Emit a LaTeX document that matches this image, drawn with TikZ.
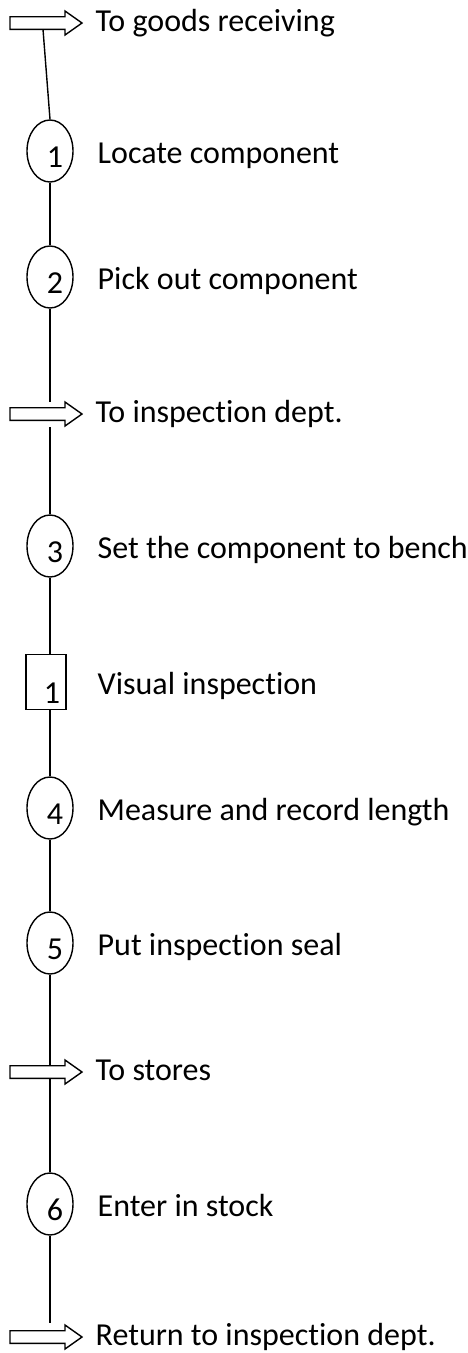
\documentclass[tikz,border=0pt]{standalone}
\usepackage{fontspec}
\setmainfont{Carlito}[Ligatures={NoCommon}]
\usetikzlibrary{shapes.geometric, positioning}
\newcommand{\transport}[3]{%
	\draw[fill=white] (10,#2-6.3) -- (65,#2-6.3) -- (65,#2-12) -- (82,#2) -- (65,#2+12) -- (65,#2+6.3) -- (10,#2+6.3) -- cycle;
	\node[lbl] (#1) at (95,#2+8) {#3};}

\begin{document}
\begin{tikzpicture}[x=1pt, y=-1pt, line width=1.4pt,
	op/.style={ellipse, draw, minimum width=46pt, minimum height=62pt, inner sep=0pt},
	insp/.style={rectangle, draw, minimum width=40pt, minimum height=55pt, inner sep=0pt},
	num/.style={anchor=base, inner sep=0pt, font=\fontsize{32}{38}\selectfont},
	lbl/.style={anchor=base west, inner sep=0pt, font=\fontsize{32}{38}\selectfont}]
		\useasboundingbox (0,0) rectangle (468,1353);
		% transports
		\transport{t0}{23}{To goods receiving}
		\transport{t1}{414}{To inspection dept.}
		\transport{t2}{1072}{To stores}
		\transport{t3}{1337}{Return to inspection dept.}
		% operations
		\node[op] (e1) at (50,151) {};
		\node[op] (e2) at (50,277) {};
		\node[op] (e3) at (50,546) {};
		\node[insp] (b1) at (46,682) {};
		\node[op] (e4) at (50,808) {};
		\node[op] (e5) at (50,943) {};
		\node[op] (e6) at (50,1204) {};
		\node[num] (n1) at (55,167) {1};
		\node[num] (n2) at (55,293) {2};
		\node[num] (n3) at (55,562) {3};
		\node[num] (m1) at (52,703) {1};
		\node[num] (n4) at (55,824) {4};
		\node[num] (n5) at (55,959) {5};
		\node[num] (n6) at (55,1220) {6};
		\node[lbl] (l1) at (97,163) {Locate component};
		\node[lbl] (l2) at (97,289) {Pick out component};
		\node[lbl] (l3) at (97,558) {Set the component to bench};
		\node[lbl] (l4) at (97,694) {Visual inspection};
		\node[lbl] (l5) at (97,820) {Measure and record length};
		\node[lbl] (l6) at (97,955) {Put inspection seal};
		\node[lbl] (l7) at (97,1216) {Enter in stock};
		% line ends at the arrows
		\coordinate (t0s) at (43,29.3);
		\coordinate (t1n) at (50,402);
		\coordinate (t1s) at (50,427);
		\coordinate (t2n) at (50,1066);
		\coordinate (t2s) at (50,1078);
		\coordinate (t3n) at (50,1323);
		\foreach \from/\to in {t0s/e1.north, e1.south/e2.north, e2.south/t1n, t1s/e3.north, e3.south/b1.north-|e3.south,
			b1.south-|e3.south/e4.north, e4.south/e5.north, e5.south/t2n, t2s/e6.north, e6.south/t3n}
			\draw (\from) -- (\to);
	\end{tikzpicture}
\end{document}
